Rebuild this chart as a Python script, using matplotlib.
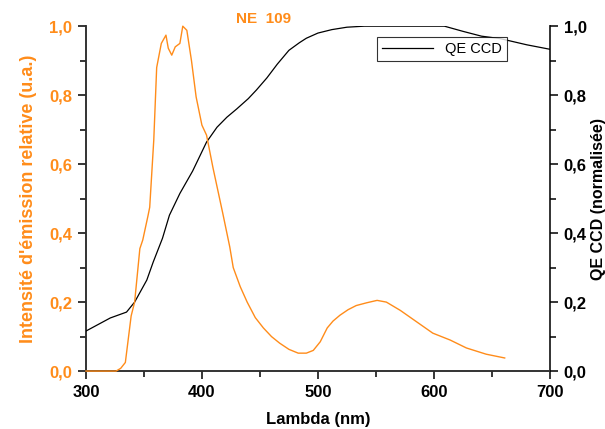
import numpy as np
import matplotlib.pyplot as plt
from matplotlib.ticker import MultipleLocator, FuncFormatter

# emission spectrum NE 109
em_wl = [300, 326, 330, 334, 339, 342, 346.5, 349, 353.5, 355, 358.5, 361, 365, 369,
         371, 374, 377, 381, 383.5, 387, 391, 395, 400, 404, 409.5, 418, 424, 427,
         433, 439, 446, 453, 460, 467, 475, 483, 490, 496, 502, 508, 513, 519, 526,
         533, 542, 551, 559, 571, 585, 599, 614, 628, 645, 661]
em_int = [0.0, 0.0, 0.008, 0.025, 0.16, 0.2, 0.355, 0.38, 0.45, 0.475, 0.67, 0.88,
          0.95, 0.974, 0.936, 0.916, 0.94, 0.95, 1.0, 0.988, 0.9, 0.795, 0.713, 0.684,
          0.59, 0.457, 0.36, 0.3, 0.245, 0.2, 0.155, 0.125, 0.1, 0.081, 0.063, 0.052,
          0.052, 0.06, 0.085, 0.125, 0.145, 0.162, 0.178, 0.19, 0.198, 0.205, 0.2,
          0.176, 0.143, 0.11, 0.09, 0.067, 0.049, 0.038]

# CCD quantum efficiency (normalised)
qe_wl = [300, 321, 335, 342, 352.5, 358, 366, 372, 381, 392, 404, 413, 421.5, 430,
         440, 447, 456, 465, 475, 484, 490, 500, 512, 525, 540, 609, 625, 641, 657,
         680, 700]
qe_val = [0.116, 0.154, 0.171, 0.2, 0.264, 0.316, 0.385, 0.452, 0.515, 0.58, 0.664,
          0.707, 0.736, 0.76, 0.79, 0.815, 0.85, 0.89, 0.93, 0.952, 0.965, 0.98, 0.99,
          0.997, 1.0, 1.0, 0.985, 0.971, 0.964, 0.946, 0.933]

orange = '#ff8c1a'
plt.rcParams['font.family'] = ['Liberation Sans', 'DejaVu Sans']
plt.rcParams['font.weight'] = 'bold'

fig = plt.figure(figsize=(6.05, 4.29), dpi=100)
ax1 = fig.add_axes([0.142, 0.135, 0.767, 0.804])
ax2 = ax1.twinx()

ax2.plot(qe_wl, qe_val, color='black', lw=0.9, label='QE CCD')
# emission drawn on top, also along the x axis below 326 nm
ax2.plot(em_wl, em_int, color=orange, lw=1.0, clip_on=False, zorder=3)

comma = FuncFormatter(lambda v, p: ('%.1f' % v).replace('.', ','))
for ax in (ax1, ax2):
    ax.set_xlim(300, 700)
    ax.set_ylim(0, 1.0)
    ax.yaxis.set_major_locator(MultipleLocator(0.2))
    ax.yaxis.set_minor_locator(MultipleLocator(0.1))
    ax.yaxis.set_major_formatter(comma)
    ax.spines['top'].set_visible(False)
    for s in ax.spines.values():
        s.set_color('#333333')
        s.set_linewidth(1.2)
        s.set_zorder(1)
    ax.tick_params(which='major', direction='out', length=6, width=1.1,
                   labelsize=12, pad=4)
    ax.tick_params(which='minor', direction='out', length=4, width=1.1)

ax1.xaxis.set_major_locator(MultipleLocator(100))
ax1.xaxis.set_minor_locator(MultipleLocator(50))
ax1.tick_params(axis='y', labelcolor=orange)

ax1.set_xlabel('Lambda (nm)', fontsize=12, fontweight='bold', labelpad=9)
ax1.set_ylabel("Intensité d'émission relative (u.a.)", color=orange,
               fontsize=13, fontweight='bold', labelpad=9)
ax2.set_ylabel('QE CCD (normalisée)', fontsize=11.5, fontweight='bold', labelpad=3)

ax1.text(0.383, 1.0, 'NE  109', color=orange, fontsize=11, fontweight='bold',
         transform=ax1.transAxes, ha='center', va='bottom')

handles, labels = ax2.get_legend_handles_labels()
leg = ax2.legend(handles[:1], labels[:1], loc='upper left',
                 bbox_to_anchor=(0.628, 0.97), frameon=True,
                 fancybox=False, edgecolor='black', handlelength=3.5,
                 borderaxespad=0, borderpad=0.35,
                 prop={'size': 10.5, 'weight': 'normal'})
leg.get_frame().set_linewidth(0.8)

fig.savefig('out.png', dpi=100)
